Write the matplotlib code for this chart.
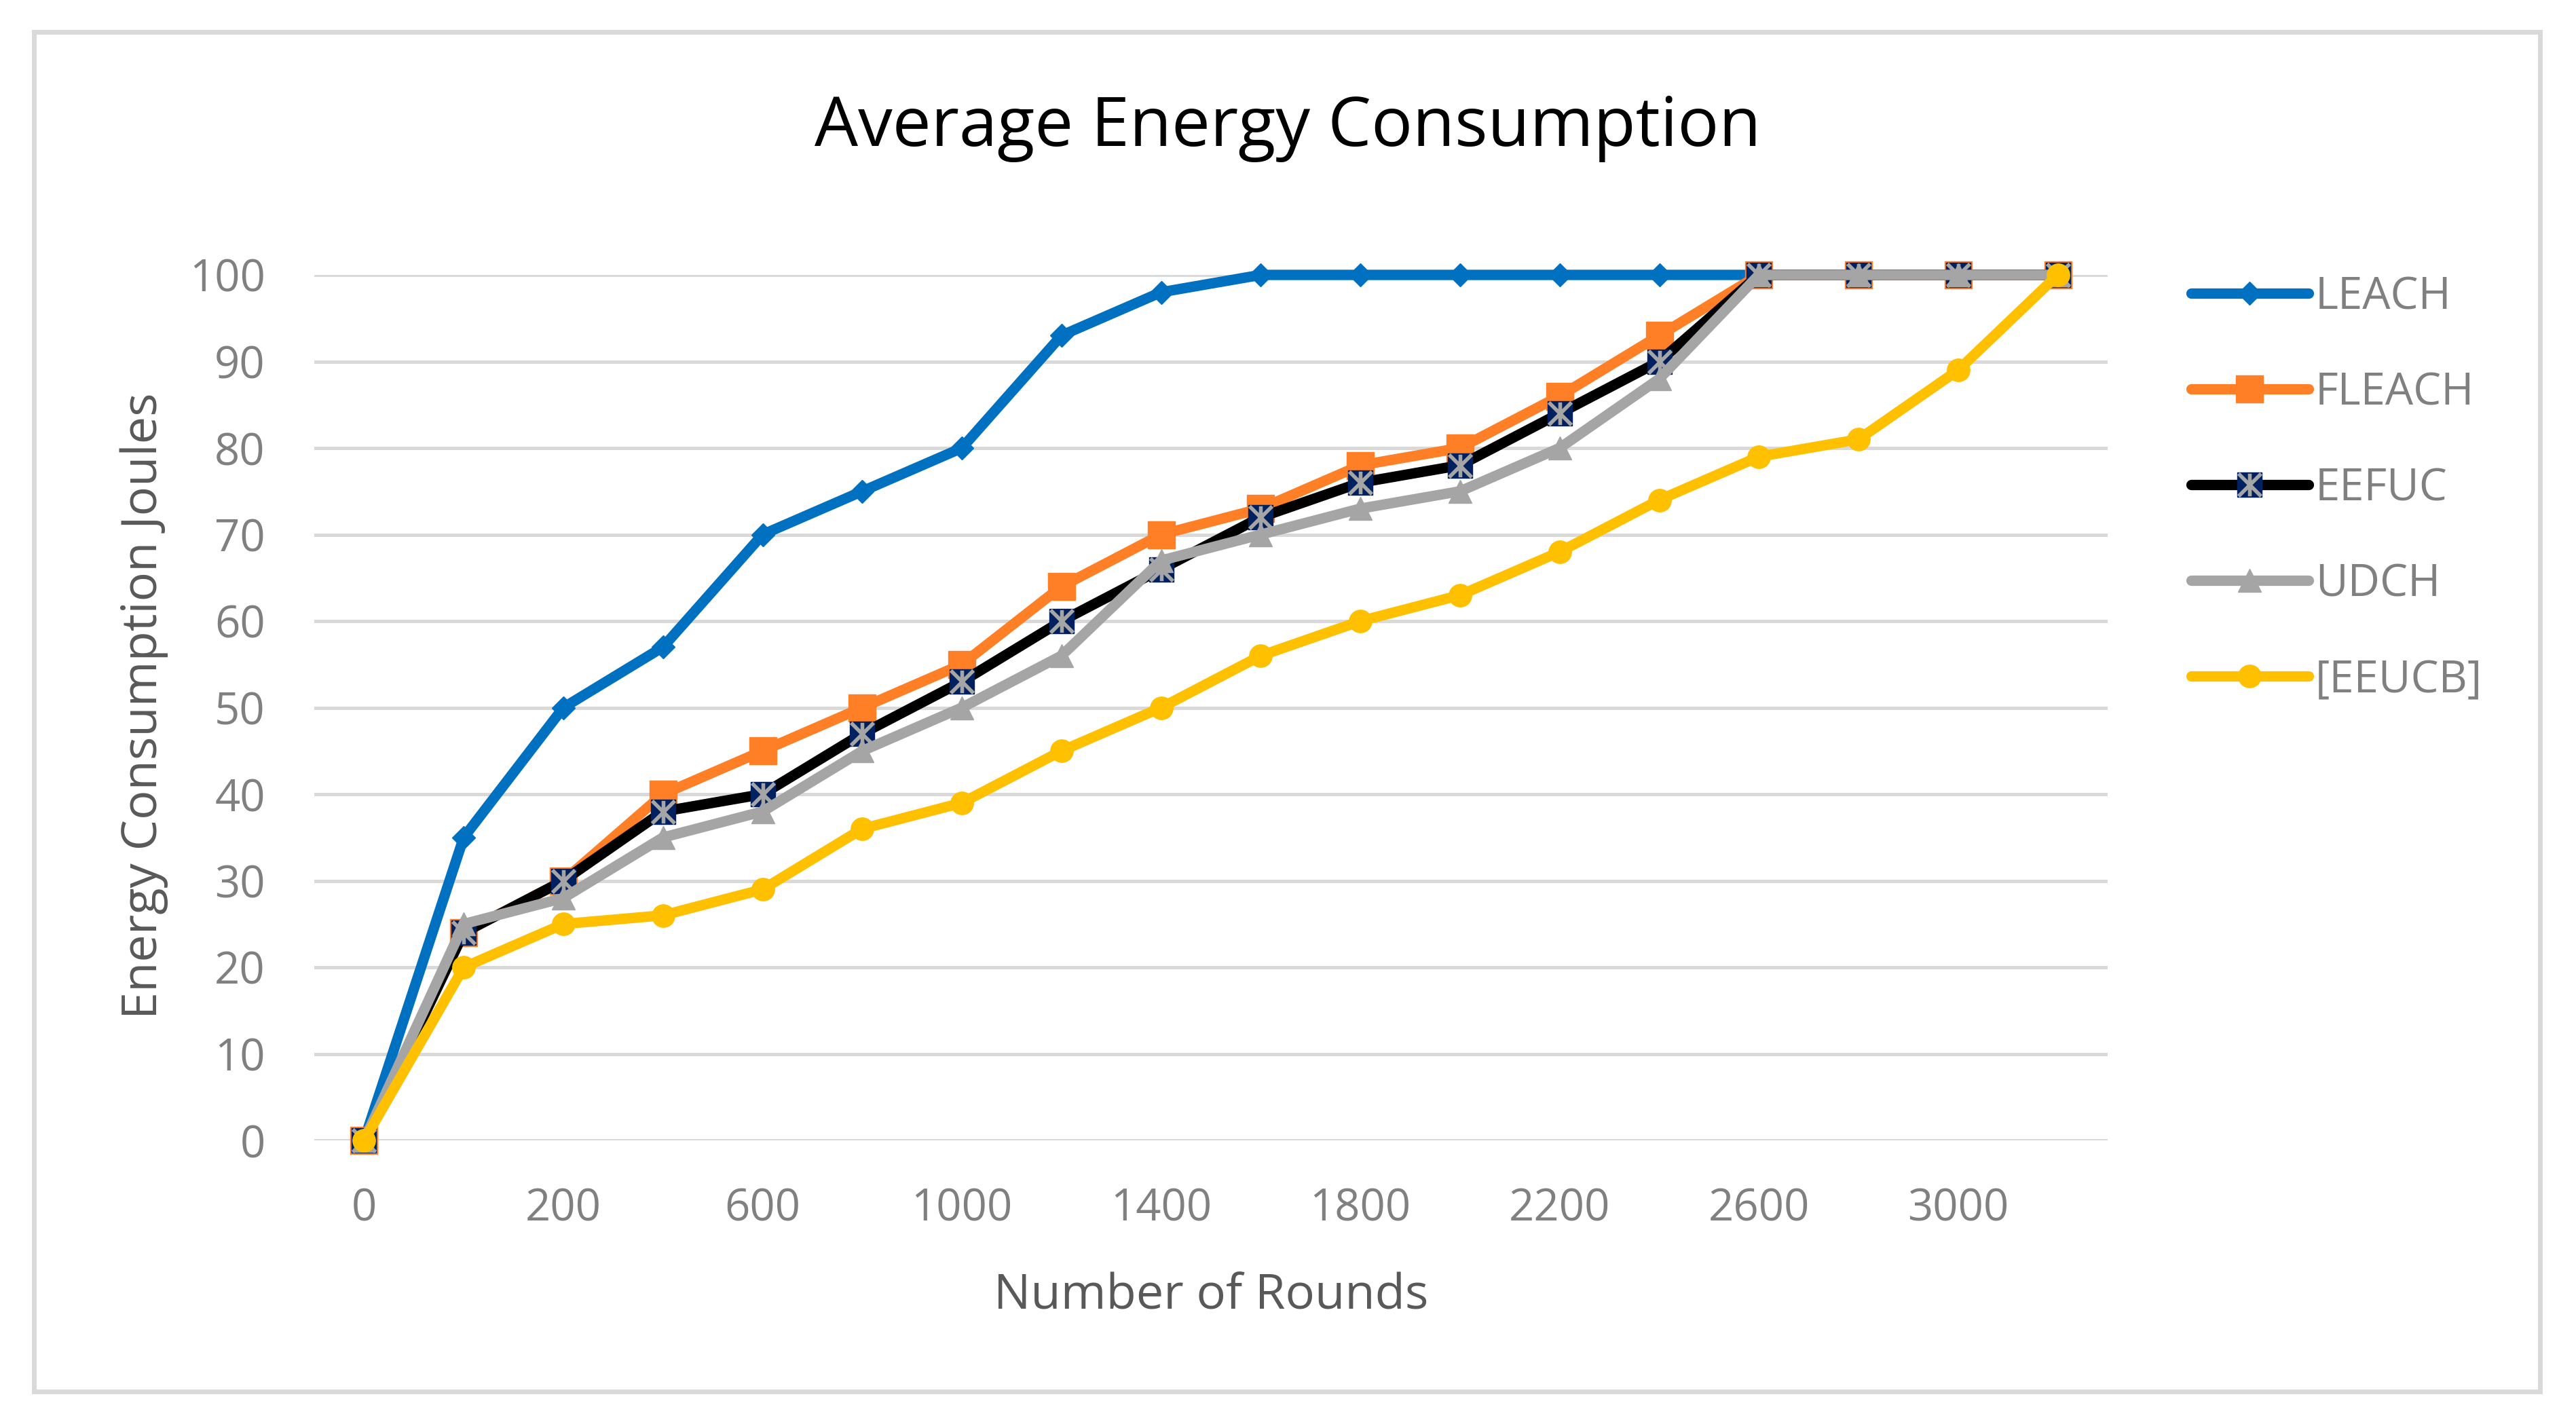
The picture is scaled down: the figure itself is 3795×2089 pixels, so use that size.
import matplotlib
matplotlib.use("Agg")
import matplotlib.pyplot as plt
from matplotlib.path import Path
from matplotlib.patches import Rectangle
from matplotlib.legend_handler import HandlerTuple

plt.rcParams['font.family'] = ['Open Sans', 'DejaVu Sans']

rounds = ['0', '100', '200', '400', '600', '800', '1000', '1200', '1400', '1600',
          '1800', '2000', '2200', '2400', '2600', '2800', '3000', '3200']
leach = [0, 35, 50, 57, 70, 75, 80, 93, 98, 100, 100, 100, 100, 100, 100, 100, 100, 100]
fleach = [0, 24, 30, 40, 45, 50, 55, 64, 70, 73, 78, 80, 86, 93, 100, 100, 100, 100]
eefuc = [0, 24, 30, 38, 40, 47, 53, 60, 66, 72, 76, 78, 84, 90, 100, 100, 100, 100]
udch = [0, 25, 28, 35, 38, 45, 50, 56, 67, 70, 73, 75, 80, 88, 100, 100, 100, 100]
eeucb = [0, 20, 25, 26, 29, 36, 39, 45, 50, 56, 60, 63, 68, 74, 79, 81, 89, 100]
yticks = [0, 10, 20, 30, 40, 50, 60, 70, 80, 90, 100]

W, H = 3795, 2089
fig = plt.figure(figsize=(W / 100, H / 100), dpi=100)
ax = fig.add_axes([463 / W, 1 - 1680 / H, (3105 - 463) / W, (1680 - 405) / H])

x = list(range(len(rounds)))
lw = 11
common = dict(lw=lw, solid_capstyle='round', solid_joinstyle='round', clip_on=False)

l1, = ax.plot(x, leach, color='#0070C0', marker='D', ms=17, mec='#0070C0', zorder=3, **common)
l2, = ax.plot(x, fleach, color='#FF7F27', marker='s', ms=29, mec='#FF7F27', zorder=4, **common)
l3, = ax.plot(x, eefuc, color='black', marker='s', ms=26.5, mfc='#002060', mec='#002060',
              mew=1, zorder=5, **common)
# grey cross with a vertical bar, drawn over the navy squares
star = Path([(-1, -1), (1, 1), (-1, 1), (1, -1), (0, -1), (0, 1)],
            [Path.MOVETO, Path.LINETO, Path.MOVETO, Path.LINETO, Path.MOVETO, Path.LINETO])
l3b, = ax.plot(x, eefuc, ls='none', marker=star, ms=24, mfc='none', mec='#A5A5A5',
               mew=4, zorder=5.5, clip_on=False)
l4, = ax.plot(x, udch, color='#A5A5A5', marker='^', ms=24.5, mec='#A5A5A5', zorder=6, **common)
l5, = ax.plot(x, eeucb, color='#FFC000', marker='o', ms=24, mec='#FFC000', zorder=7, **common)

ax.set_xlim(-0.5, len(rounds) - 0.5)
ax.set_ylim(0, 100)
ax.set_yticks(yticks)
ax.set_xticks(x[::2])
ax.set_xticklabels(rounds[::2])
ax.grid(axis='y', color='#D9D9D9', lw=3.6)
ax.set_axisbelow(True)
for s in ax.spines.values():
    s.set_visible(False)
ax.tick_params(axis='both', length=0, labelsize=47, labelcolor='#808080')
ax.tick_params(axis='x', pad=49)
ax.tick_params(axis='y', pad=52)

fig.text(0.5, 1 - 189 / H, 'Average Energy Consumption', ha='center', va='center',
         fontsize=73, color='black')
fig.text(1784 / W, 1 - 1910 / H, 'Number of Rounds', ha='center', va='center',
         fontsize=52, color='#595959')
fig.text(212 / W, 1 - 1040 / H, 'Energy Consumption Joules', ha='center', va='center',
         rotation=90, fontsize=52, color='#595959')

leg = fig.legend([l1, l2, (l3, l3b), l4, l5], ['LEACH', 'FLEACH', 'EEFUC', 'UDCH', '[EEUCB]'],
                 handler_map={tuple: HandlerTuple(ndivide=1, pad=0)},
                 loc='upper left', bbox_to_anchor=(3228 / W, 1 - 405 / H),
                 frameon=False, fontsize=47, borderpad=0, borderaxespad=0,
                 handlelength=2.65, handletextpad=0.15, labelspacing=1.15)
for t in leg.get_texts():
    t.set_color('#808080')

fig.patches.append(Rectangle((50 / W, 1 - 2050 / H), (3742 - 50) / W, (2050 - 47) / H,
                             transform=fig.transFigure, fill=False, ec='#D9D9D9', lw=5))

fig.savefig('out.png', dpi=100, facecolor='white')
